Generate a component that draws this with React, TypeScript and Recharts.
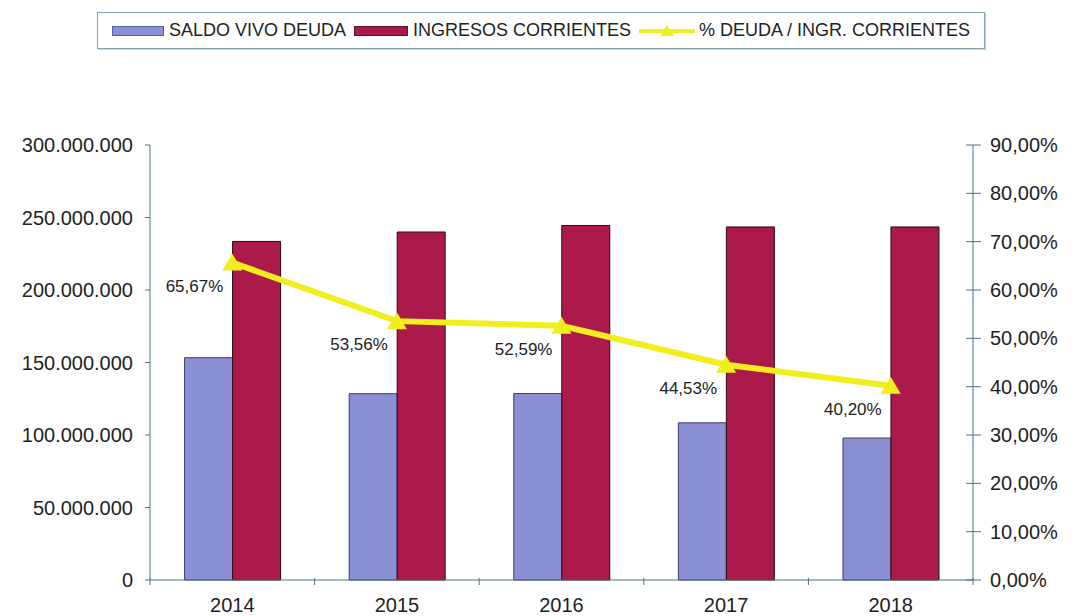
import {
  Bar,
  ComposedChart,
  LabelList,
  Line,
  XAxis,
  YAxis,
} from "recharts";

const YEARS = ["2014", "2015", "2016", "2017", "2018"];
const SALDO_VIVO = [153300000, 128500000, 128600000, 108400000, 97900000];
const INGRESOS = [233500000, 240000000, 244500000, 243500000, 243500000];
const PCT_DEUDA = [0.6567, 0.5356, 0.5259, 0.4453, 0.402];

const LEFT_TICKS = [0, 50000000, 100000000, 150000000, 200000000, 250000000, 300000000];
const RIGHT_TICKS = [0, 0.1, 0.2, 0.3, 0.4, 0.5, 0.6, 0.7, 0.8, 0.9];

const data = YEARS.map((year, i) => ({
  year,
  saldo: SALDO_VIVO[i],
  ingresos: INGRESOS[i],
  pct: PCT_DEUDA[i],
}));

const FONT = "'Liberation Sans', Arial, sans-serif";
const BLUE = "#8b8fd4";
const RED = "#ab1a4b";
const YELLOW = "#f2ee1e";
const AXIS = "#4f7482";

const fmtMoney = (v: number) => (v === 0 ? "0" : v.toLocaleString("de-DE"));
const fmtPct = (v: number) => (v * 100).toFixed(2).replace(".", ",") + "%";

function Triangle(props: any) {
  const { cx, cy } = props;
  if (cx == null || cy == null) return null;
  return (
    <path
      d={`M${cx},${cy - 9} L${cx + 10},${cy + 8} L${cx - 10},${cy + 8} Z`}
      fill={YELLOW}
    />
  );
}

function PctLabel(props: any) {
  const { x, y, value } = props;
  return (
    <text
      x={x - 9}
      y={y + 29}
      textAnchor="end"
      fontSize={17}
      fontFamily={FONT}
      fill="#222"
    >
      {fmtPct(value)}
    </text>
  );
}

function YearTick(props: any) {
  const { x, y, payload, index, visibleTicksCount } = props;
  const half = payload?.offset ?? 82;
  const axisY = y - 10;
  return (
    <g>
      <line x1={x - half} y1={axisY} x2={x - half} y2={axisY + 7} stroke={AXIS} />
      {index === visibleTicksCount - 1 && (
        <line x1={x + half} y1={axisY} x2={x + half} y2={axisY + 7} stroke={AXIS} />
      )}
      <text
        x={x}
        y={y + 24}
        textAnchor="middle"
        fontSize={20}
        fontFamily={FONT}
        fill="#222"
      >
        {payload.value}
      </text>
    </g>
  );
}

// right axis: tick marks cross the axis line, as in the original
function PctTick(props: any) {
  const { x, y, payload } = props;
  const axisX = x - 17;
  return (
    <g>
      <line x1={axisX - 7} y1={y} x2={axisX + 8} y2={y} stroke={AXIS} />
      <text x={x} y={y} dy="0.355em" textAnchor="start" fontSize={20} fontFamily={FONT} fill="#222">
        {fmtPct(payload.value)}
      </text>
    </g>
  );
}

function LegendBox() {
  const item = { display: "flex", alignItems: "center", marginRight: 8 } as const;
  return (
    <div
      style={{
        position: "absolute",
        left: 97,
        top: 12,
        width: 888,
        height: 37,
        border: "1px solid #8aa2ad",
        boxShadow: "1px 1px 0 #c9d3d8",
        display: "flex",
        alignItems: "center",
        justifyContent: "center",
        fontFamily: FONT,
        fontSize: 18,
        color: "#222",
        boxSizing: "border-box",
      }}
    >
      <div style={item}>
        <span style={{ width: 50, height: 8, background: BLUE, border: "1px solid #5560a0", marginRight: 5 }} />
        SALDO VIVO DEUDA
      </div>
      <div style={item}>
        <span style={{ width: 52, height: 8, background: RED, border: "1px solid #60102a", marginRight: 5 }} />
        INGRESOS CORRIENTES
      </div>
      <div style={{ ...item, marginRight: 0 }}>
        <svg width={56} height={14} style={{ marginRight: 4 }}>
          <line x1={0} y1={7} x2={56} y2={7} stroke={YELLOW} strokeWidth={4} />
          <path d="M28,1 L35,12 L21,12 Z" fill={YELLOW} />
        </svg>
        % DEUDA / INGR. CORRIENTES
      </div>
    </div>
  );
}

export default function App() {
  return (
    <div style={{ position: "absolute", left: 0, top: 0, width: 1077, height: 616, background: "#fff" }}>
      <LegendBox />
      <ComposedChart
        width={1077}
        height={616}
        data={data}
        margin={{ top: 145, right: 0, bottom: 0, left: 0 }}
        barCategoryGap="21%"
        barGap={0}
      >
        <XAxis
          dataKey="year"
          height={36}
          stroke={AXIS}
          tickLine={false}
          tick={<YearTick />}
          interval={0}
        />
        <YAxis
          yAxisId="left"
          width={150}
          domain={[0, 300000000]}
          ticks={LEFT_TICKS}
          tickFormatter={fmtMoney}
          stroke={AXIS}
          tickSize={5}
          tickMargin={12}
          tick={{ fontSize: 20, fontFamily: FONT, fill: "#222" }}
        />
        <YAxis
          yAxisId="right"
          orientation="right"
          width={104}
          domain={[0, 0.9]}
          ticks={RIGHT_TICKS}
          stroke={AXIS}
          tickLine={false}
          tickSize={0}
          tickMargin={17}
          tick={<PctTick />}
        />
        <Bar
          yAxisId="left"
          dataKey="saldo"
          name="SALDO VIVO DEUDA"
          fill={BLUE}
          stroke="#3a3f6a"
          strokeWidth={1}
          isAnimationActive={false}
        />
        <Bar
          yAxisId="left"
          dataKey="ingresos"
          name="INGRESOS CORRIENTES"
          fill={RED}
          stroke="#2a0a14"
          strokeWidth={1}
          isAnimationActive={false}
        />
        <Line
          yAxisId="right"
          dataKey="pct"
          name="% DEUDA / INGR. CORRIENTES"
          stroke={YELLOW}
          strokeWidth={6}
          dot={<Triangle />}
          activeDot={false}
          isAnimationActive={false}
        >
          <LabelList dataKey="pct" content={<PctLabel />} />
        </Line>
      </ComposedChart>
    </div>
  );
}
